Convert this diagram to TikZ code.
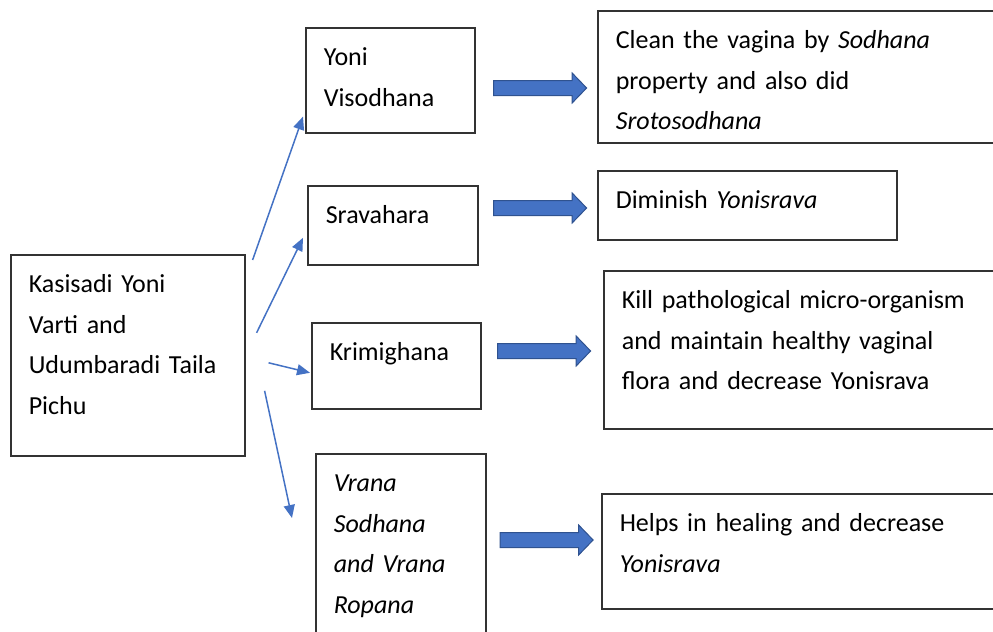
\documentclass[tikz,border=0pt]{standalone}
\usepackage{fontspec}
\setmainfont{Carlito}
\usetikzlibrary{arrows.meta,shapes.arrows,calc}
\definecolor{officeblue}{HTML}{4472C4}
\definecolor{officedark}{HTML}{2F528F}

\begin{document}
\begin{tikzpicture}[x=0.5pt, y=-0.5pt,
    box/.style={draw=black!80, line width=0.8pt, rectangle, anchor=north west,
        align=left, inner xsep=9pt, inner ysep=0pt, text height=19pt,
        font=\fontsize{13}{20.25}\selectfont},
    blockarrow/.style={single arrow, draw=officedark, fill=officeblue, line width=0.5pt,
        minimum height=46.5pt, minimum width=14.5pt, inner xsep=0pt, inner ysep=3.5pt,
        single arrow head extend=3.75pt, single arrow tip angle=92,
        single arrow head indent=0pt},
    link/.style={draw=officeblue, line width=0.75pt, -{Triangle[length=6.5pt,width=5.5pt]}}]

    \clip (0,0) rectangle (993,632);

    % Source
    \node[box, text width=99pt, text depth=81.5pt] (src) at (10,254) {
        Kasisadi Yoni\\
        Varti and\\
        Udumbaradi Taila\\
        Pichu
    };

    % Actions
    \node[box, text width=66.5pt, text depth=33.5pt] (yoni) at (305,27) {
        Yoni\\
        Visodhana
    };
    \node[box, text width=67pt, text depth=20.5pt] (srava) at (307,185) {
        Sravahara
    };
    \node[box, text width=66.5pt, text depth=24pt] (krimi) at (311,322) {
        Krimighana
    };
    \node[box, text width=67pt, text depth=81pt] (vrana) at (315,453) {
        \textit{Vrana}\\
        \textit{Sodhana}\\
        \textit{and Vrana}\\
        \textit{Ropana}
    };

    % Effects
    \node[box, text width=192pt, text depth=47pt] (clean) at (597,10) {
        Clean the vagina by \textit{Sodhana}\\
        property and also did\\
        \textit{Srotosodhana}
    };
    \node[box, text width=131.5pt, text depth=15.5pt] (diminish) at (597,170) {
        Diminish \textit{Yonisrava}
    };
    \node[box, text width=182pt, text depth=60pt] (kill) at (603,270) {
        Kill pathological micro-organism\\
        and maintain healthy vaginal\\
        flora and decrease Yonisrava
    };
    \node[box, text width=182pt, text depth=38.5pt] (heal) at (601,493) {
        Helps in healing and decrease\\
        \textit{Yonisrava}
    };

    % Block arrows
    \node[blockarrow] (arrA) at (536.5,88) {};
    \node[blockarrow] (arrB) at (536.5,208) {};
    \node[blockarrow] (arrC) at (540.5,351) {};
    \node[blockarrow] (arrD) at (543,540) {};

    % Relations
    \draw[link] ($(src.north east)+(7,6)$) -- ($(yoni.south west)+(-2,-17)$);
    \draw[link] ($(src.east)+(11,-22.5)$) -- ($(srava.west)+(-4,12.5)$);
    \draw[link] ($(src.east)+(23,7.5)$) -- ($(krimi.west)+(-1,7)$);
    \draw[link] ($(src.east)+(19,35.5)$) -- ($(vrana.north west)+(-23,65)$);

\end{tikzpicture}
\end{document}
